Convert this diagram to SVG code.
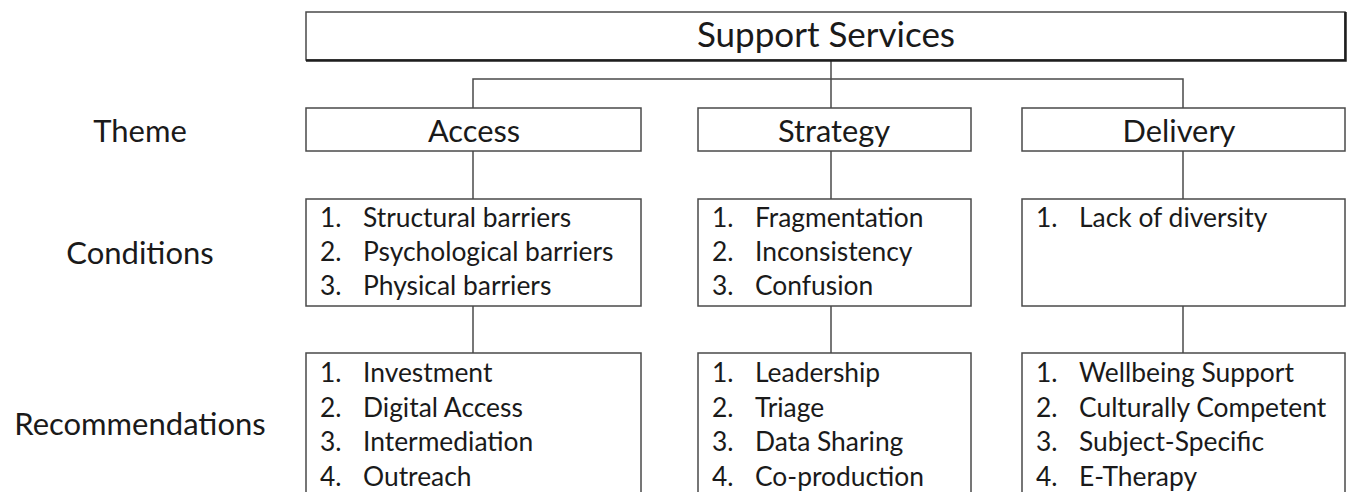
<svg xmlns="http://www.w3.org/2000/svg" width="1349" height="492" viewBox="0 0 1349 492">
  <style>
    .box { fill: #ffffff; stroke: #4a4a4a; stroke-width: 1.5; }
    .wire { fill: none; stroke: #4a4a4a; stroke-width: 1.5; }
    text { font-family: "Lato", "Open Sans", "Liberation Sans", sans-serif; fill: #1a1a1a; }
    .title { font-size: 35px; text-anchor: middle; }
    .theme { font-size: 30.8px; text-anchor: middle; }
    .row { font-size: 31px; text-anchor: middle; }
    .item { font-size: 26.4px; }
  </style>

  <rect width="1349" height="492" fill="#ffffff"/>

  <!-- row labels -->
  <g id="row-labels">
    <text class="row" x="140" y="142">Theme</text>
    <text class="row" x="140" y="264">Conditions</text>
    <text class="row" x="140" y="435">Recommendations</text>
  </g>

  <!-- connectors -->
  <g id="connectors">
    <path class="wire" d="M831 61 V108"/>
    <path class="wire" d="M473 108 V79 H1183 V108" stroke-width="2"/>
    <path class="wire" d="M473 151 V199"/>
    <path class="wire" d="M831 151 V199"/>
    <path class="wire" d="M1183 151 V199"/>
    <path class="wire" d="M473 306 V353"/>
    <path class="wire" d="M831 306 V353"/>
    <path class="wire" d="M1183 306 V353"/>
  </g>

  <!-- root -->
  <g id="support-services">
    <rect class="box" x="306" y="12" width="1039" height="48"/>
    <path d="M306 60.5 H1345.5 V12" fill="none" stroke="#1e1e1e" stroke-width="2.5"/>
    <text class="title" x="826" y="47">Support Services</text>
  </g>

  <!-- themes -->
  <g id="theme-access">
    <rect class="box" x="306" y="108" width="335" height="43"/>
    <text class="theme" x="474" y="142">Access</text>
  </g>
  <g id="theme-strategy">
    <rect class="box" x="698" y="108" width="273" height="43"/>
    <text class="theme" x="834" y="142">Strategy</text>
  </g>
  <g id="theme-delivery">
    <rect class="box" x="1022" y="108" width="323" height="43"/>
    <text class="theme" x="1179" y="142">Delivery</text>
  </g>

  <!-- conditions -->
  <g id="conditions-access">
    <rect class="box" x="306" y="199" width="335" height="107"/>
    <text class="item" x="320" y="227">1.</text><text class="item" x="363" y="227">Structural barriers</text>
    <text class="item" x="320" y="261">2.</text><text class="item" x="363" y="261">Psychological barriers</text>
    <text class="item" x="320" y="295">3.</text><text class="item" x="363" y="295">Physical barriers</text>
  </g>
  <g id="conditions-strategy">
    <rect class="box" x="698" y="199" width="273" height="107"/>
    <text class="item" x="712" y="227">1.</text><text class="item" x="755" y="227">Fragmentation</text>
    <text class="item" x="712" y="261">2.</text><text class="item" x="755" y="261">Inconsistency</text>
    <text class="item" x="712" y="295">3.</text><text class="item" x="755" y="295">Confusion</text>
  </g>
  <g id="conditions-delivery">
    <rect class="box" x="1022" y="199" width="323" height="107"/>
    <text class="item" x="1036" y="227">1.</text><text class="item" x="1079" y="227">Lack of diversity</text>
  </g>

  <!-- recommendations -->
  <g id="recommendations-access">
    <rect class="box" x="306" y="353" width="335" height="150"/>
    <text class="item" x="320" y="382">1.</text><text class="item" x="363" y="382">Investment</text>
    <text class="item" x="320" y="416.5">2.</text><text class="item" x="363" y="416.5">Digital Access</text>
    <text class="item" x="320" y="451">3.</text><text class="item" x="363" y="451">Intermediation</text>
    <text class="item" x="320" y="485.5">4.</text><text class="item" x="363" y="485.5">Outreach</text>
  </g>
  <g id="recommendations-strategy">
    <rect class="box" x="698" y="353" width="273" height="150"/>
    <text class="item" x="712" y="382">1.</text><text class="item" x="755" y="382">Leadership</text>
    <text class="item" x="712" y="416.5">2.</text><text class="item" x="755" y="416.5">Triage</text>
    <text class="item" x="712" y="451">3.</text><text class="item" x="755" y="451">Data Sharing</text>
    <text class="item" x="712" y="485.5">4.</text><text class="item" x="755" y="485.5">Co-production</text>
  </g>
  <g id="recommendations-delivery">
    <rect class="box" x="1022" y="353" width="323" height="150"/>
    <text class="item" x="1036" y="382">1.</text><text class="item" x="1079" y="382">Wellbeing Support</text>
    <text class="item" x="1036" y="416.5">2.</text><text class="item" x="1079" y="416.5">Culturally Competent</text>
    <text class="item" x="1036" y="451">3.</text><text class="item" x="1079" y="451">Subject-Specific</text>
    <text class="item" x="1036" y="485.5">4.</text><text class="item" x="1079" y="485.5">E-Therapy</text>
  </g>
</svg>
